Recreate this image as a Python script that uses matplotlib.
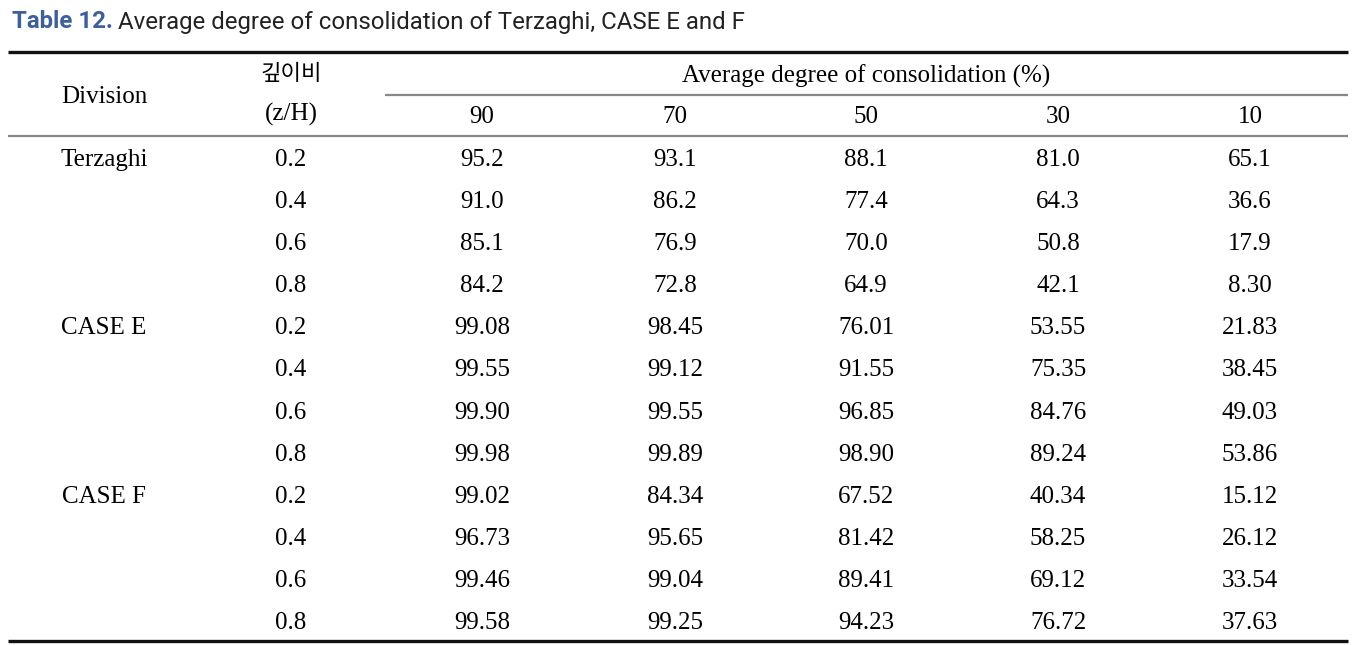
import matplotlib.pyplot as plt

divisions = ['Terzaghi', 'CASE E', 'CASE F']
depth_ratio = ['0.2', '0.4', '0.6', '0.8']
consolidation = ['90', '70', '50', '30', '10']

terzaghi = [
    ['95.2', '93.1', '88.1', '81.0', '65.1'],
    ['91.0', '86.2', '77.4', '64.3', '36.6'],
    ['85.1', '76.9', '70.0', '50.8', '17.9'],
    ['84.2', '72.8', '64.9', '42.1', '8.30'],
]
case_e = [
    ['99.08', '98.45', '76.01', '53.55', '21.83'],
    ['99.55', '99.12', '91.55', '75.35', '38.45'],
    ['99.90', '99.55', '96.85', '84.76', '49.03'],
    ['99.98', '99.89', '98.90', '89.24', '53.86'],
]
case_f = [
    ['99.02', '84.34', '67.52', '40.34', '15.12'],
    ['96.73', '95.65', '81.42', '58.25', '26.12'],
    ['99.46', '99.04', '89.41', '69.12', '33.54'],
    ['99.58', '99.25', '94.23', '76.72', '37.63'],
]

fig = plt.figure(figsize=(13.67, 6.45), dpi=100)
ax = fig.add_axes([0, 0, 1, 1])
ax.set_xlim(0, 1367)
ax.set_ylim(645, 0)
ax.axis('off')

serif = ['Liberation Serif', 'DejaVu Serif']
fs = 18

# title, two pieces placed side by side
sans = ['Roboto', 'DejaVu Sans']
tfs = 17.3
t1 = ax.text(12, 22, 'Table 12.', color='#3d5f9e', fontsize=tfs, fontweight='bold',
             family=sans, va='center', ha='left')
fig.canvas.draw()
bb = t1.get_window_extent()
x2 = 12 + bb.width + 5
ax.text(x2, 22, 'Average degree of consolidation of Terzaghi, CASE E and F', color='#222222',
        fontsize=tfs, family=sans, va='center', ha='left')

# rules
ax.plot([8, 1348], [52, 52], color='#111111', lw=2.4, solid_capstyle='butt')
ax.plot([385, 1348], [95, 95], color='#888888', lw=1.6, solid_capstyle='butt')
ax.plot([8, 1348], [136, 136], color='#888888', lw=1.6, solid_capstyle='butt')
ax.plot([8, 1348], [641, 641], color='#111111', lw=2.4, solid_capstyle='butt')

# header
col_x = [482, 675, 866, 1058, 1250]
ax.text(104, 97, 'Division', fontsize=fs, family=serif, ha='center', va='center')
ax.text(291, 74, '깊이비', fontsize=fs - 2, family=['Noto Sans CJK KR', 'DejaVu Sans'],
        ha='center', va='center', fontweight='light')
ax.text(291, 114, '(z/H)', fontsize=fs, family=serif, ha='center', va='center')
ax.text(866, 76, 'Average degree of consolidation (%)', fontsize=fs, family=serif,
        ha='center', va='center')
for x, lab in zip(col_x, consolidation):
    ax.text(x, 117, lab, fontsize=fs, family=serif, ha='center', va='center')

# body
row_y0 = 160
row_h = 42.1
blocks = [terzaghi, case_e, case_f]
i = 0
for name, block in zip(divisions, blocks):
    for j, row in enumerate(block):
        y = row_y0 + i * row_h
        if j == 0:
            ax.text(104, y, name, fontsize=fs, family=serif, ha='center', va='center')
        ax.text(291, y, depth_ratio[j], fontsize=fs, family=serif, ha='center', va='center')
        for x, v in zip(col_x, row):
            ax.text(x, y, v, fontsize=fs, family=serif, ha='center', va='center')
        i += 1

fig.savefig('out.png', dpi=100)
